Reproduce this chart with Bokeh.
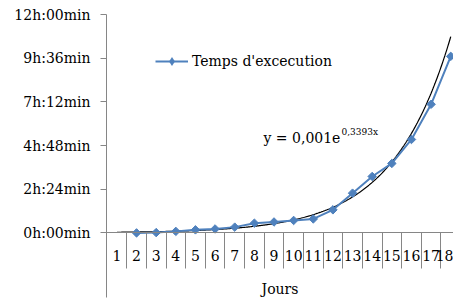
import math
from bokeh.plotting import figure
from bokeh.models import FixedTicker, Label, Range1d, Legend, LegendItem
from bokeh.embed import file_html
from bokeh.resources import INLINE

# ---- data ----
categories = list(range(1, 19))
jours = list(range(2, 19))
temps_min = [0, 1, 5, 10, 13, 19, 32, 36, 41, 46, 76, 131, 186, 229, 308, 424, 582]
y_ticks = [0, 144, 288, 432, 576, 720]
y_tick_labels = ["0h:00min", "2h:24min", "4h:48min", "7h:12min", "9h:36min", "12h:00min"]
trend_a = 0.001      # in days
trend_b = 0.3393
series_name = "Temps d'excecution"
x_title = "Jours"
eq_main = "y = 0,001e"
eq_sup = "0,3393x"

# trend line (exponential fit shown in the chart), minutes
trend_x = [categories[0] + i * 0.05 for i in range(int((categories[-1] - categories[0]) / 0.05) + 1)]
trend_y = [trend_a * math.exp(trend_b * x) * 1440 for x in trend_x]

FONT = "DejaVu Serif"
GRAY = "#868686"
BLUE = "#4F81BD"

p = figure(width=453, height=303, output_backend="svg", toolbar_location=None,
           x_range=Range1d(0.47, 18.14), y_range=Range1d(-213, 720),
           min_border_left=106, min_border_right=0, min_border_top=14, min_border_bottom=6)
p.outline_line_color = None
p.background_fill_color = "white"
p.border_fill_color = "white"

p.xgrid.visible = False
p.ygrid.ticker = FixedTicker(ticks=[y_ticks[-1]])
p.ygrid.grid_line_color = GRAY

# y axis
ya = p.yaxis[0]
ya.ticker = FixedTicker(ticks=y_ticks)
ya.major_label_overrides = {t: l for t, l in zip(y_ticks, y_tick_labels)}
ya.axis_line_color = GRAY
ya.major_tick_line_color = GRAY
ya.major_tick_out = 6
ya.major_tick_in = 0
ya.minor_tick_line_color = None
ya.major_label_standoff = 10
ya.major_label_text_font = FONT
ya.major_label_text_font_size = "14px"
ya.major_label_text_color = "black"

# x axis drawn at y = 0
xa = p.xaxis[0]
xa.fixed_location = 0
xa.ticker = FixedTicker(ticks=categories, minor_ticks=[c + 0.5 for c in categories])
xa.major_label_overrides = {c: str(c) for c in categories}
xa.axis_line_color = GRAY
xa.major_tick_in = 0
xa.major_tick_out = 0
xa.major_tick_line_color = None
xa.minor_tick_in = 0
xa.minor_tick_out = 36
xa.minor_tick_line_color = GRAY
xa.major_label_standoff = -19
xa.major_label_text_font = FONT
xa.major_label_text_font_size = "14px"
xa.major_label_text_color = "black"
xa.axis_label = x_title
xa.axis_label_standoff = 17
xa.axis_label_text_font = FONT
xa.axis_label_text_font_size = "14px"
xa.axis_label_text_font_style = "normal"
xa.axis_label_text_color = "black"

# series
p.line(trend_x, trend_y, line_color="black", line_width=1.2)
r_line = p.line(jours, temps_min, line_color=BLUE, line_width=2)
p.scatter(jours, temps_min, marker="square", angle=math.pi / 4, size=6,
          fill_color=BLUE, line_color=BLUE)
# legend glyph: diamond (legend draws markers at its own fixed size)
r_leg = p.scatter(jours, temps_min, marker="diamond", size=0,
                  fill_color=BLUE, line_color=None)

legend = Legend(items=[LegendItem(label=series_name, renderers=[r_line, r_leg])],
                location=(49, 225), padding=0, spacing=0, glyph_width=33, glyph_height=22,
                label_standoff=4, border_line_color=None, background_fill_alpha=0,
                label_text_font=FONT, label_text_font_size="14px", label_text_color="black")
p.add_layout(legend)

p.add_layout(Label(x=157, y=160, x_units="screen", y_units="screen", text=eq_main,
                   text_font=FONT, text_font_size="14px", text_baseline="alphabetic",
                   text_color="black"))
p.add_layout(Label(x=235, y=166, x_units="screen", y_units="screen", text=eq_sup,
                   text_font=FONT, text_font_size="9px", text_baseline="alphabetic",
                   text_color="black"))

open("out.html", "w").write(file_html(p, INLINE))
